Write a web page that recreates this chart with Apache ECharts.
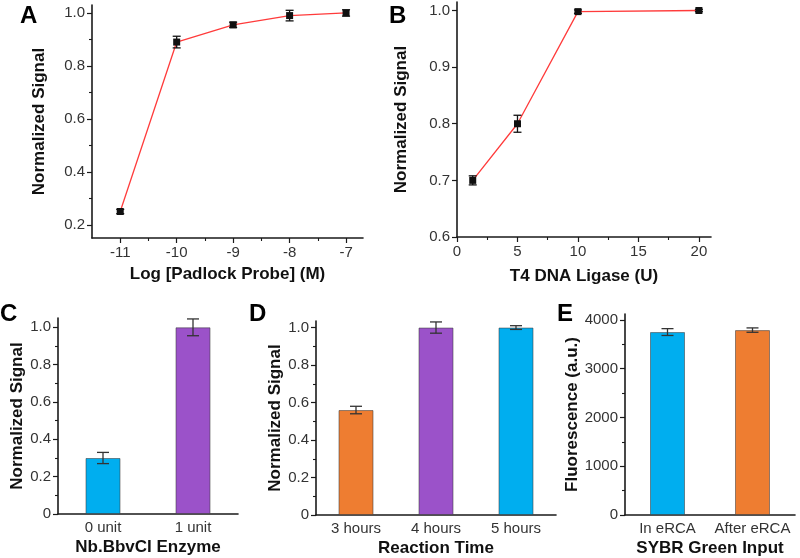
<!DOCTYPE html>
<html>
<head>
<meta charset="utf-8">
<script src="https://cdn.jsdelivr.net/npm/echarts@6/dist/echarts.min.js"></script>
<style>
  html, body { margin: 0; background: #fff; }
  #chart { width: 800px; height: 558px; }
</style>
</head>
<body>
<div id="chart"></div>
<script>
// A: padlock probe concentration
var probeLog = [-11, -10, -9, -8, -7];
var probeSignal = [0.25, 0.89, 0.955, 0.99, 1.0];
var probeErr = [0.008, 0.022, 0.01, 0.02, 0.012];
// B: T4 DNA ligase
var ligaseUnits = [1.3, 5, 10, 20];
var ligaseSignal = [0.70, 0.80, 0.998, 1.0];
var ligaseErr = [0.008, 0.015, 0.003, 0.002];
// C: nicking enzyme
var enzymeCats = ['0 unit', '1 unit'];
var enzymeSignal = [0.30, 1.0];
var enzymeErr = [0.03, 0.045];
// D: reaction time
var timeCats = ['3 hours', '4 hours', '5 hours'];
var timeSignal = [0.56, 1.0, 1.0];
var timeErr = [0.02, 0.03, 0.01];
// E: SYBR green
var sybrCats = ['In eRCA', 'After eRCA'];
var sybrFluor = [3750, 3790];
var sybrErr = [70, 45];

// tick values
var ticksA_y = [0.2, 0.4, 0.6, 0.8, 1.0];
var minorA_y = [0.3, 0.5, 0.7, 0.9];
var ticksA_x = [-11, -10, -9, -8, -7];
var minorA_x = [-10.5, -9.5, -8.5, -7.5];
var ticksB_y = [0.6, 0.7, 0.8, 0.9, 1.0];
var ticksB_x = [0, 5, 10, 15, 20];
var minorB_x = [2.5, 7.5, 12.5, 17.5];
var ticksNorm = [0, 0.2, 0.4, 0.6, 0.8, 1.0];
var minorNorm = [0.1, 0.3, 0.5, 0.7, 0.9];
var ticksE = [0, 1000, 2000, 3000, 4000];
var minorE = [500, 1500, 2500, 3500];

var BLUE = '#00aeef', PURPLE = '#9b52c9', ORANGE = '#ee7d31';
var FONT = 'Liberation Sans, Arial, sans-serif';
var AXIS = '#1a1a1a';

var xAxes = [], yAxes = [], series = [];

function fmt1(v) { return v === 0 ? '0' : v.toFixed(1); }

function valueAxis(list, grid, pos, min, max, ticks, minors, formatter, name, gap) {
  list.push({
    type: 'value', gridIndex: grid, position: pos, min: min, max: max,
    name: name, nameLocation: 'middle', nameGap: gap,
    nameTextStyle: { fontFamily: FONT, fontSize: 17, fontWeight: 'bold', color: '#111' },
    axisLine: { show: true, lineStyle: { color: AXIS, width: 1.6 } },
    axisTick: { show: true, customValues: ticks, length: 5, lineStyle: { color: AXIS, width: 1.2 } },
    axisLabel: { customValues: ticks, formatter: formatter, fontFamily: FONT, fontSize: 15, color: '#333', margin: 7 },
    splitLine: { show: false }
  });
  var main = list.length - 1;
  if (minors) {
    list.push({
      type: 'value', gridIndex: grid, position: pos, min: min, max: max,
      axisLine: { show: false },
      axisTick: { show: true, customValues: minors, length: 3, lineStyle: { color: AXIS, width: 1.1 } },
      axisLabel: { show: false },
      splitLine: { show: false }
    });
  }
  return main;
}

function catAxis(grid, cats, name) {
  xAxes.push({
    type: 'category', gridIndex: grid, position: 'bottom', data: cats,
    name: name, nameLocation: 'middle', nameGap: 25,
    nameTextStyle: { fontFamily: FONT, fontSize: 17, fontWeight: 'bold', color: '#111' },
    axisLine: { show: true, lineStyle: { color: AXIS, width: 1.6 } },
    axisTick: { show: false },
    axisLabel: { fontFamily: FONT, fontSize: 15, color: '#333', margin: 6, interval: 0 },
    splitLine: { show: false }
  });
  return xAxes.length - 1;
}

function errorBars(xi, yi, xs, ys, errs, cap, color) {
  return {
    type: 'custom', xAxisIndex: xi, yAxisIndex: yi, z: 10, silent: true,
    data: xs.map(function (x, i) { return [x, ys[i] - errs[i], ys[i] + errs[i]]; }),
    renderItem: function (params, api) {
      var lo = api.coord([api.value(0), api.value(1)]);
      var hi = api.coord([api.value(0), api.value(2)]);
      var st = { stroke: color, lineWidth: 1.3 };
      return {
        type: 'group', children: [
          { type: 'line', shape: { x1: lo[0], y1: lo[1], x2: hi[0], y2: hi[1] }, style: st },
          { type: 'line', shape: { x1: lo[0] - cap / 2, y1: lo[1], x2: lo[0] + cap / 2, y2: lo[1] }, style: st },
          { type: 'line', shape: { x1: hi[0] - cap / 2, y1: hi[1], x2: hi[0] + cap / 2, y2: hi[1] }, style: st }
        ]
      };
    }
  };
}

function pairs(xs, ys) { return xs.map(function (x, i) { return [x, ys[i]]; }); }

function lineSeries(xi, yi, xs, ys) {
  return {
    type: 'line', xAxisIndex: xi, yAxisIndex: yi, data: pairs(xs, ys),
    symbol: 'rect', symbolSize: 7, showSymbol: true,
    itemStyle: { color: '#111' },
    lineStyle: { color: '#ff3b3b', width: 1.3 },
    animation: false
  };
}

function barSeries(xi, yi, vals, colors) {
  return {
    type: 'bar', xAxisIndex: xi, yAxisIndex: yi, barWidth: 35,
    data: vals.map(function (v, i) {
      return { value: v, itemStyle: { color: colors[i], borderColor: 'rgba(60,60,60,0.55)', borderWidth: 1 } };
    }),
    animation: false
  };
}

var grids = [
  { left: 92, top: 5, width: 271, height: 233 },
  { left: 457, top: 2, width: 254, height: 235 },
  { left: 58, top: 318, width: 180, height: 196 },
  { left: 316, top: 321, width: 240, height: 194 },
  { left: 625, top: 314, width: 170, height: 201 }
];

// A
var ax = valueAxis(xAxes, 0, 'bottom', -11.5, -6.7, ticksA_x, minorA_x, function (v) { return String(v); }, 'Log [Padlock Probe] (M)', 28);
var ay = valueAxis(yAxes, 0, 'left', 0.15, 1.03, ticksA_y, minorA_y, fmt1, 'Normalized Signal', 44);
series.push(lineSeries(ax, ay, probeLog, probeSignal));
series.push(errorBars(ax, ay, probeLog, probeSignal, probeErr, 8, '#111'));

// B
var bx = valueAxis(xAxes, 1, 'bottom', 0, 21, ticksB_x, minorB_x, function (v) { return String(v); }, 'T4 DNA Ligase (U)', 31);
var by = valueAxis(yAxes, 1, 'left', 0.6, 1.015, ticksB_y, null, fmt1, 'Normalized Signal', 47);
series.push(lineSeries(bx, by, ligaseUnits, ligaseSignal));
series.push(errorBars(bx, by, ligaseUnits, ligaseSignal, ligaseErr, 8, '#111'));

// C
var cx = catAxis(2, enzymeCats, 'Nb.BbvCI Enzyme');
var cy = valueAxis(yAxes, 2, 'left', 0, 1.05, ticksNorm, minorNorm, fmt1, 'Normalized Signal', 31);
series.push(barSeries(cx, cy, enzymeSignal, [BLUE, PURPLE]));
series.push(errorBars(cx, cy, [0, 1], enzymeSignal, enzymeErr, 12, '#333'));

// D
var dx = catAxis(3, timeCats, 'Reaction Time');
var dy = valueAxis(yAxes, 3, 'left', 0, 1.035, ticksNorm, minorNorm, fmt1, 'Normalized Signal', 32);
series.push(barSeries(dx, dy, timeSignal, [ORANGE, PURPLE, BLUE]));
series.push(errorBars(dx, dy, [0, 1, 2], timeSignal, timeErr, 12, '#333'));

// E
var ex = catAxis(4, sybrCats, 'SYBR Green Input');
var ey = valueAxis(yAxes, 4, 'left', 0, 4120, ticksE, minorE, function (v) { return String(v); }, 'Fluorescence (a.u.)', 44);
series.push(barSeries(ex, ey, sybrFluor, [BLUE, ORANGE]));
series.push(errorBars(ex, ey, [0, 1], sybrFluor, sybrErr, 12, '#333'));

function letter(t, left, top) {
  return { text: t, left: left, top: top, padding: 0,
    textStyle: { fontFamily: FONT, fontSize: 24, fontWeight: 'bold', color: '#000' } };
}

var chart = echarts.init(document.getElementById('chart'));
chart.setOption({
  backgroundColor: '#fff',
  animation: false,
  title: [letter('A', 20, 4), letter('B', 389, 4), letter('C', 0, 302), letter('D', 249, 302), letter('E', 557, 302)],
  grid: grids,
  xAxis: xAxes,
  yAxis: yAxes,
  series: series
});
</script>
</body>
</html>
